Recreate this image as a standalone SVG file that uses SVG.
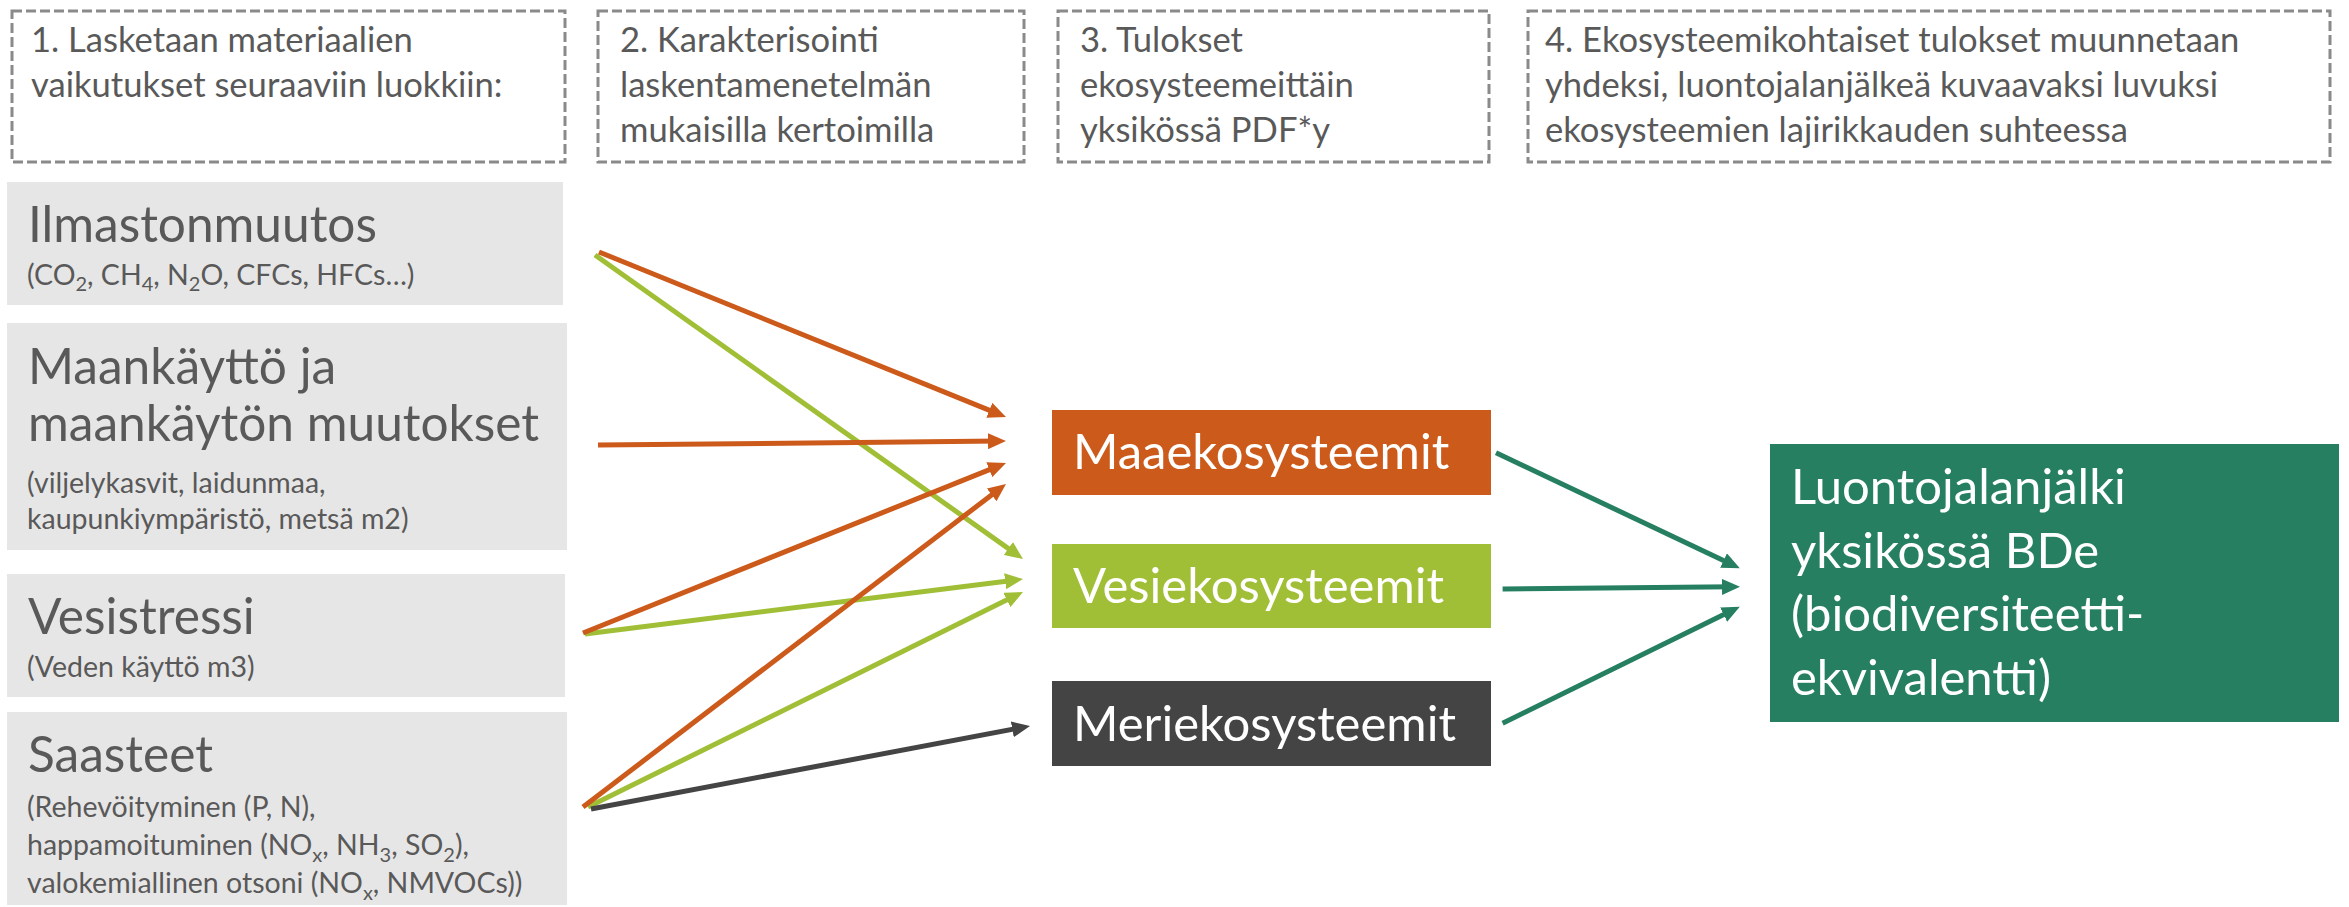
<svg xmlns="http://www.w3.org/2000/svg" width="2349" height="907" viewBox="0 0 2349 907">
<style>
text{font-family:"Lato","Liberation Sans",sans-serif}
.hdr{fill:none;stroke:#8a8a8a;stroke-width:3;stroke-dasharray:10 4}
.ht{font-size:34.6px;fill:#595959}
.gbox{fill:#e7e6e6}
.tt{font-size:49.6px;fill:#595959}
.st{font-size:28.5px;fill:#595959}
.sub{font-size:20px}
.et{font-size:49px;fill:#ffffff}
.c{fill:none;stroke-width:5}
</style>
<defs>
<marker id="aO" markerUnits="userSpaceOnUse" markerWidth="18" markerHeight="16" refX="11" refY="8" orient="auto"><path d="M0,0 L18,8 L0,16 z" fill="#cc5a1b"/></marker>
<marker id="aG" markerUnits="userSpaceOnUse" markerWidth="18" markerHeight="16" refX="11" refY="8" orient="auto"><path d="M0,0 L18,8 L0,16 z" fill="#a1bf36"/></marker>
<marker id="aD" markerUnits="userSpaceOnUse" markerWidth="18" markerHeight="16" refX="11" refY="8" orient="auto"><path d="M0,0 L18,8 L0,16 z" fill="#444444"/></marker>
<marker id="aT" markerUnits="userSpaceOnUse" markerWidth="18" markerHeight="16" refX="11" refY="8" orient="auto"><path d="M0,0 L18,8 L0,16 z" fill="#267f61"/></marker>
</defs>

<g id="step1">
<rect class="hdr" x="12" y="11" width="553" height="151"/>
<text class="ht" x="31" y="52">1. Lasketaan materiaalien</text>
<text class="ht" x="31" y="97">vaikutukset seuraaviin luokkiin:</text>
</g>
<g id="step2">
<rect class="hdr" x="598" y="11" width="426" height="151"/>
<text class="ht" x="620" y="52">2. Karakterisointi</text>
<text class="ht" x="620" y="97">laskentamenetelmän</text>
<text class="ht" x="620" y="142">mukaisilla kertoimilla</text>
</g>
<g id="step3">
<rect class="hdr" x="1058" y="11" width="431" height="151"/>
<text class="ht" x="1080" y="52">3. Tulokset</text>
<text class="ht" x="1080" y="97">ekosysteemeittäin</text>
<text class="ht" x="1080" y="142">yksikössä PDF*y</text>
</g>
<g id="step4">
<rect class="hdr" x="1528" y="11" width="802" height="151"/>
<text class="ht" x="1545" y="52">4. Ekosysteemikohtaiset tulokset muunnetaan</text>
<text class="ht" x="1545" y="97">yhdeksi, luontojalanjälkeä kuvaavaksi luvuksi</text>
<text class="ht" x="1545" y="142">ekosysteemien lajirikkauden suhteessa</text>
</g>

<g id="ilmastonmuutos">
<rect class="gbox" x="7" y="182" width="556" height="123"/>
<text class="tt" x="28" y="242">Ilmastonmuutos</text>
<text class="st" x="27" y="285">(CO<tspan class="sub" dy="6">2</tspan><tspan dy="-6">, CH</tspan><tspan class="sub" dy="6">4</tspan><tspan dy="-6">, N</tspan><tspan class="sub" dy="6">2</tspan><tspan dy="-6">O, CFCs, HFCs…)</tspan></text>
</g>
<g id="maankaytto">
<rect class="gbox" x="7" y="323" width="560" height="227"/>
<text class="tt" x="28" y="384">Maankäyttö ja</text>
<text class="tt" x="28" y="441">maankäytön muutokset</text>
<text class="st" x="27" y="493">(viljelykasvit, laidunmaa,</text>
<text class="st" x="27" y="529">kaupunkiympäristö, metsä m2)</text>
</g>
<g id="vesistressi">
<rect class="gbox" x="7" y="574" width="558" height="123"/>
<text class="tt" x="28" y="634">Vesistressi</text>
<text class="st" x="27" y="677">(Veden käyttö m3)</text>
</g>
<g id="saasteet">
<rect class="gbox" x="7" y="712" width="560" height="193"/>
<text class="tt" x="28" y="772">Saasteet</text>
<text class="st" x="27" y="817">(Rehevöityminen (P, N),</text>
<text class="st" x="27" y="855">happamoituminen (NO<tspan class="sub" dy="7">x</tspan><tspan dy="-7">, NH</tspan><tspan class="sub" dy="7">3</tspan><tspan dy="-7">, SO</tspan><tspan class="sub" dy="7">2</tspan><tspan dy="-7">),</tspan></text>
<text class="st" x="27" y="893">valokemiallinen otsoni (NO<tspan class="sub" dy="7">x</tspan><tspan dy="-7">, NMVOCs))</tspan></text>
</g>

<g id="maaekosysteemit">
<rect x="1052" y="410" width="439" height="85" fill="#cc5a1b"/>
<text class="et" x="1073" y="469">Maaekosysteemit</text>
</g>
<g id="vesiekosysteemit">
<rect x="1052" y="544" width="439" height="84" fill="#a1bf36"/>
<text class="et" x="1073" y="603">Vesiekosysteemit</text>
</g>
<g id="meriekosysteemit">
<rect x="1052" y="681" width="439" height="85" fill="#444444"/>
<text class="et" x="1073" y="741">Meriekosysteemit</text>
</g>
<g id="luontojalanjalki">
<rect x="1770" y="444" width="569" height="278" fill="#267f61"/>
<text class="et" x="1791" y="504">Luontojalanjälki</text>
<text class="et" x="1791" y="568">yksikössä BDe</text>
<text class="et" x="1791" y="631">(biodiversiteetti-</text>
<text class="et" x="1791" y="695">ekvivalentti)</text>
</g>

<g id="connectors">
<line class="c" stroke="#a1bf36" x1="595" y1="255" x2="1017.3" y2="554.9" marker-end="url(#aG)"/>
<line class="c" stroke="#cc5a1b" x1="599" y1="252" x2="999.5" y2="414.4" marker-end="url(#aO)"/>
<line class="c" stroke="#cc5a1b" x1="598" y1="445" x2="999" y2="441.1" marker-end="url(#aO)"/>
<line class="c" stroke="#a1bf36" x1="585" y1="634" x2="1016.1" y2="579.9" marker-end="url(#aG)"/>
<line class="c" stroke="#cc5a1b" x1="583" y1="633" x2="999.5" y2="465.6" marker-end="url(#aO)"/>
<line class="c" stroke="#a1bf36" x1="588" y1="807" x2="1016.7" y2="595.1" marker-end="url(#aG)"/>
<line class="c" stroke="#cc5a1b" x1="583" y1="807" x2="1000.4" y2="488.2" marker-end="url(#aO)"/>
<line class="c" stroke="#444444" x1="591" y1="809" x2="1023.1" y2="727.3" marker-end="url(#aD)"/>
<line class="c" stroke="#267f61" x1="1496" y1="452.7" x2="1733.5" y2="565.3" marker-end="url(#aT)"/>
<line class="c" stroke="#267f61" x1="1502.6" y1="589" x2="1733" y2="586.8" marker-end="url(#aT)"/>
<line class="c" stroke="#267f61" x1="1502.6" y1="723.3" x2="1733.5" y2="609.8" marker-end="url(#aT)"/>
</g>
</svg>
